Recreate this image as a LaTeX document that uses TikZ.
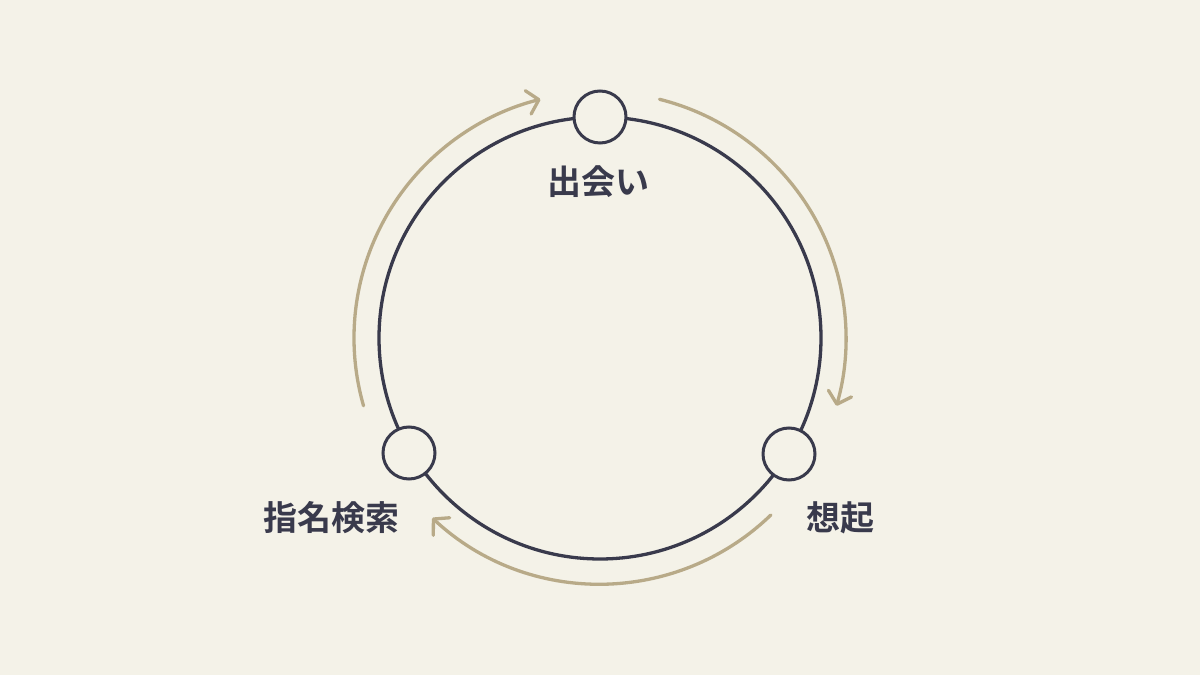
\documentclass[tikz,border=0pt]{standalone}
\usepackage{fontspec}
\newfontfamily\cjk{Noto Sans CJK JP}[UprightFont=* Bold]
\usetikzlibrary{arrows.meta,calc}
\definecolor{bg}{HTML}{F4F2E8}
\definecolor{ink}{HTML}{393A4C}
\definecolor{tan}{HTML}{B8AA88}
\tikzset{
  ring/.style={draw=ink, line width=3.3pt},
  stage/.style={circle, draw=ink, line width=3pt, fill=bg, minimum size=52pt, inner sep=0pt},
  lbl/.style={text=ink, font=\cjk\fontsize{34}{40}\selectfont, inner sep=0pt},
  flow/.style={draw=tan, line width=3.3pt, line cap=round,
    -{Straight Barb[length=11pt, width=24pt, line width=3.3pt, round]}}
}
\begin{document}
\begin{tikzpicture}[x=1pt,y=1pt]
\useasboundingbox[fill=bg] (0,0) rectangle (1200,675);
\coordinate (c) at (600,337);
% main ring
\draw[ring] (c) circle[radius=221pt];
% stage nodes
\node[stage] (top) at (600,558) {};
\node[stage] (br) at (789,221) {};
\node[stage] (bl) at (409,222) {};
% labels
\node[lbl] (t1) at (598,493) {出会い};
\node[lbl] (t2) at (840,157) {想起};
\node[lbl] (t3) at (331,157) {指名検索};
% flow arrows
\coordinate (a1) at ($(c)+(196:246pt)$);
\coordinate (a2) at ($(c)+(76:246pt)$);
\coordinate (a3) at ($(c)+(-46:246pt)$);
\draw[flow] (a1) arc[start angle=196, end angle=104, radius=246pt];
\draw[flow] (a2) arc[start angle=76, end angle=-16, radius=246pt];
\draw[flow] (a3) arc[start angle=-46, end angle=-133, radius=246pt];
\end{tikzpicture}
\end{document}
